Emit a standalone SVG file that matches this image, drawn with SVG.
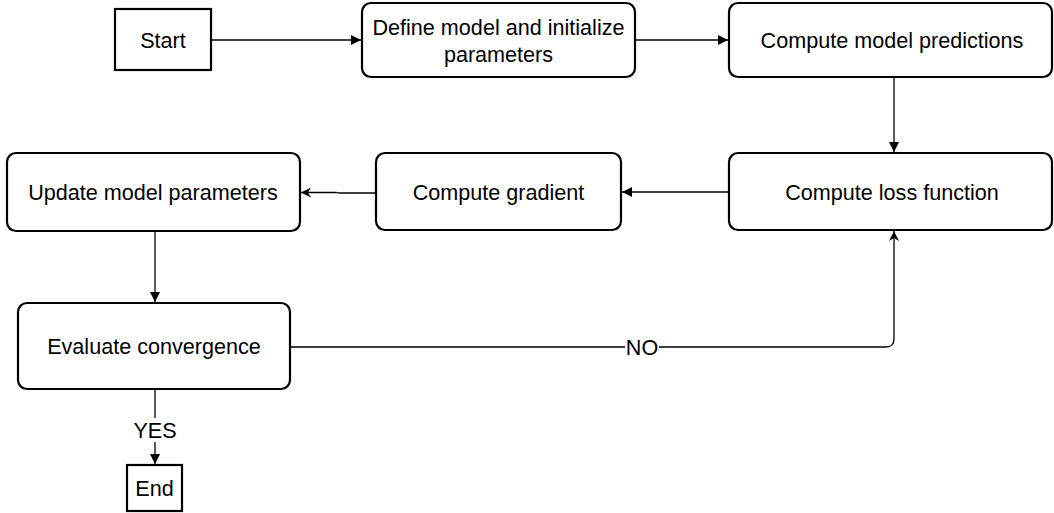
<svg xmlns="http://www.w3.org/2000/svg" width="1054" height="513" viewBox="0 0 1054 513">
<style>
.box{fill:#fff;stroke:#000;stroke-width:2.2}
.lbl{font-family:"Liberation Sans",Arial,sans-serif;font-size:21.6px;fill:#000;text-anchor:middle;dominant-baseline:central}
.edge{fill:none;stroke:#000;stroke-width:1.3}
.elbl{font-family:"Liberation Sans",Arial,sans-serif;font-size:21.6px;fill:#000;text-anchor:middle;dominant-baseline:central}
</style>
<defs>
<marker id="block" markerWidth="11" markerHeight="10" refX="10" refY="5" orient="auto" markerUnits="userSpaceOnUse">
<path d="M0,0 L10,5 L0,10 Z" fill="#000"/>
</marker>
<marker id="classic" markerWidth="11" markerHeight="10" refX="10" refY="5" orient="auto" markerUnits="userSpaceOnUse">
<path d="M0,0 L10,5 L0,10 L3,5 Z" fill="#000"/>
</marker>
</defs>
<rect width="1054" height="513" fill="#fff"/>
<g id="connectors">
<path class="edge" d="M211,40 H361" marker-end="url(#block)"/>
<path class="edge" d="M635,40 H728" marker-end="url(#block)"/>
<path class="edge" d="M894,77 V152" marker-end="url(#block)"/>
<path class="edge" d="M729,192 H622" marker-end="url(#block)"/>
<path class="edge" d="M376,193 H340 Q336,193 336,192.5 L301,192.5" marker-end="url(#classic)"/>
<path class="edge" d="M155,232 V302" marker-end="url(#block)"/>
<path class="edge" d="M290,347 H886 Q894,347 894,339 V231" marker-end="url(#classic)"/>
<path class="edge" d="M155,389 V464" marker-end="url(#block)"/>
<rect x="625" y="335" width="34" height="24" fill="#fff"/>
<text class="elbl" x="642" y="347">NO</text>
<rect x="133" y="418" width="44" height="24" fill="#fff"/>
<text class="elbl" x="155" y="430">YES</text>
</g>
<g id="start">
<rect class="box" x="115" y="9" width="96" height="61"/>
<text class="lbl" x="163" y="40">Start</text>
</g>
<g id="define">
<rect class="box" x="362" y="3" width="273" height="74" rx="9"/>
<text class="lbl" x="498.5" y="27">Define model and initialize</text>
<text class="lbl" x="498.5" y="54">parameters</text>
</g>
<g id="predictions">
<rect class="box" x="729" y="3" width="323" height="74" rx="9"/>
<text class="lbl" x="892" y="40">Compute model predictions</text>
</g>
<g id="loss">
<rect class="box" x="729" y="153" width="323" height="77" rx="9"/>
<text class="lbl" x="892" y="192">Compute loss function</text>
</g>
<g id="gradient">
<rect class="box" x="376" y="153" width="245" height="77" rx="9"/>
<text class="lbl" x="498.5" y="192">Compute gradient</text>
</g>
<g id="update">
<rect class="box" x="7" y="153" width="293" height="78" rx="9"/>
<text class="lbl" x="153" y="192">Update model parameters</text>
</g>
<g id="evaluate">
<rect class="box" x="18" y="303" width="272" height="86" rx="9"/>
<text class="lbl" x="154" y="346">Evaluate convergence</text>
</g>
<g id="end">
<rect class="box" x="127" y="465" width="55" height="46"/>
<text class="lbl" x="154.5" y="488">End</text>
</g>
</svg>
